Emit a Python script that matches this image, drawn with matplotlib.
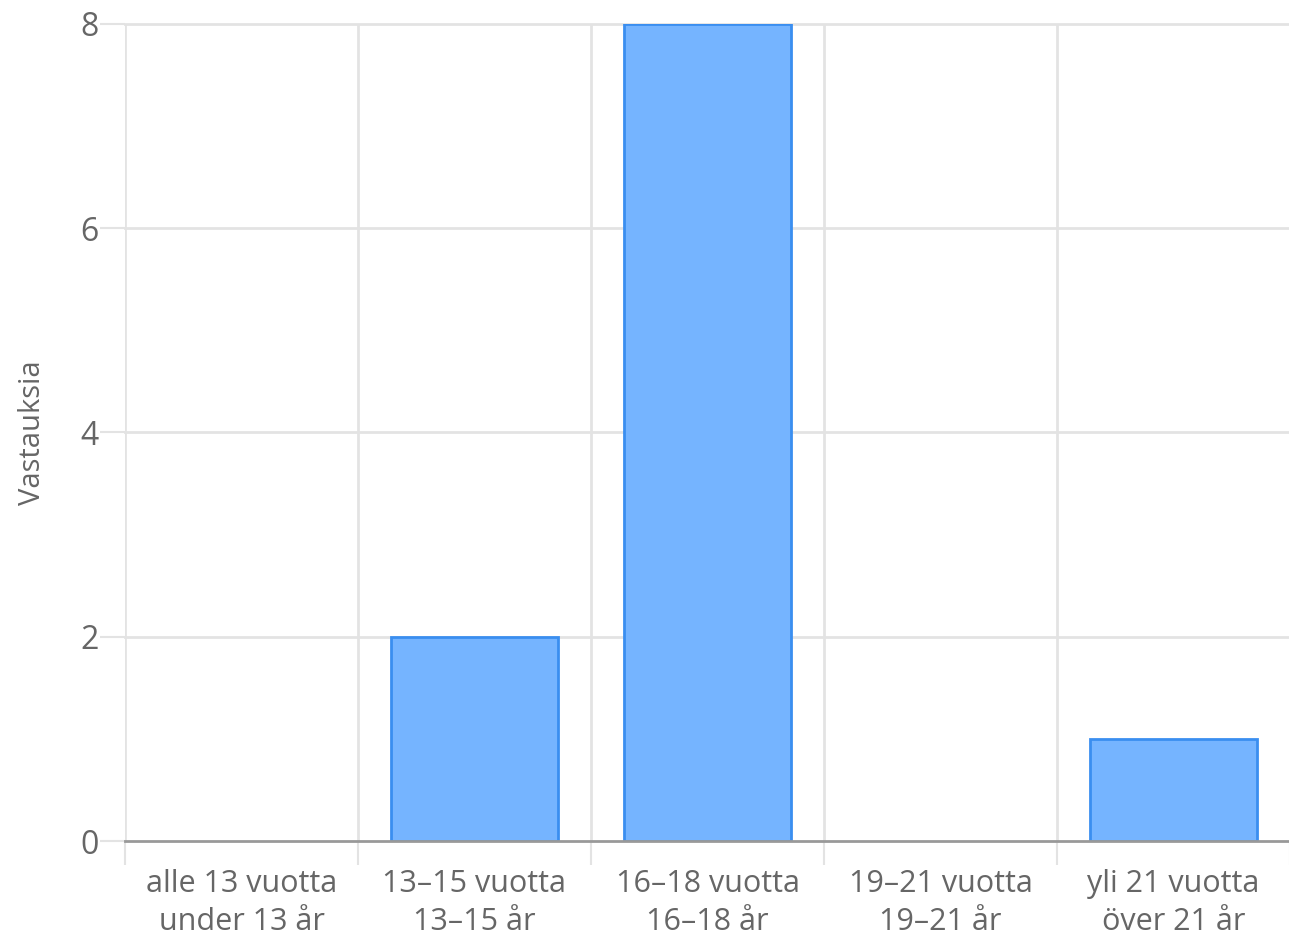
import matplotlib
matplotlib.use("Agg")
import matplotlib.pyplot as plt
import numpy as np

categories = ["alle 13 vuotta\nunder 13 år", "13–15 vuotta\n13–15 år", "16–18 vuotta\n16–18 år",
              "19–21 vuotta\n19–21 år", "yli 21 vuotta\növer 21 år"]
values = [0, 2, 8, 0, 1]
yticks = [0, 2, 4, 6, 8]

plt.rcParams['font.family'] = ['Open Sans', 'DejaVu Sans']

W, H = 1289, 938
fig = plt.figure(figsize=(W/100, H/100), dpi=100)
ax = fig.add_axes([125/W, 1-841/H, 1165/W, (841-24)/H])

x = np.arange(len(categories))
lws = [2 if v > 0 else 0 for v in values]
ax.bar(x, values, width=0.715, color='#75b4ff', edgecolor='#3a8ef0', linewidth=lws, zorder=3)

ax.set_xlim(-0.5, len(categories)-0.5)
ax.set_ylim(0, 8)
ax.set_yticks(yticks)
ax.set_yticklabels([str(v) for v in yticks])
ax.set_xticks(x)
ax.set_xticklabels(categories, linespacing=1.35)
ax.set_xticks(np.arange(len(categories)+1)-0.5, minor=True)

ax.grid(False)
for t in yticks[1:]:
    ax.axhline(t, color='#e3e3e3', lw=2, zorder=1, clip_on=False)
for b in np.arange(len(categories)+1)-0.5:
    ax.axvline(b, color='#e3e3e3', lw=2, zorder=1)

for s in ['top', 'right', 'left']:
    ax.spines[s].set_visible(False)
ax.spines['bottom'].set_color('#999999')
ax.spines['bottom'].set_linewidth(2)
ax.spines['bottom'].set_zorder(4)

ax.tick_params(axis='x', which='major', length=0, pad=20, labelsize=22, labelcolor='#666666')
ax.tick_params(axis='x', which='minor', length=17, width=1.5, color='#e3e3e3')
ax.tick_params(axis='y', length=18, width=1.5, color='#e3e3e3', pad=1, labelsize=23, labelcolor='#666666')

ax.set_ylabel('Vastauksia', fontsize=21, color='#666666')
ax.yaxis.set_label_coords((47-125)/1165, 0.5)

fig.savefig('out.png', dpi=100)
